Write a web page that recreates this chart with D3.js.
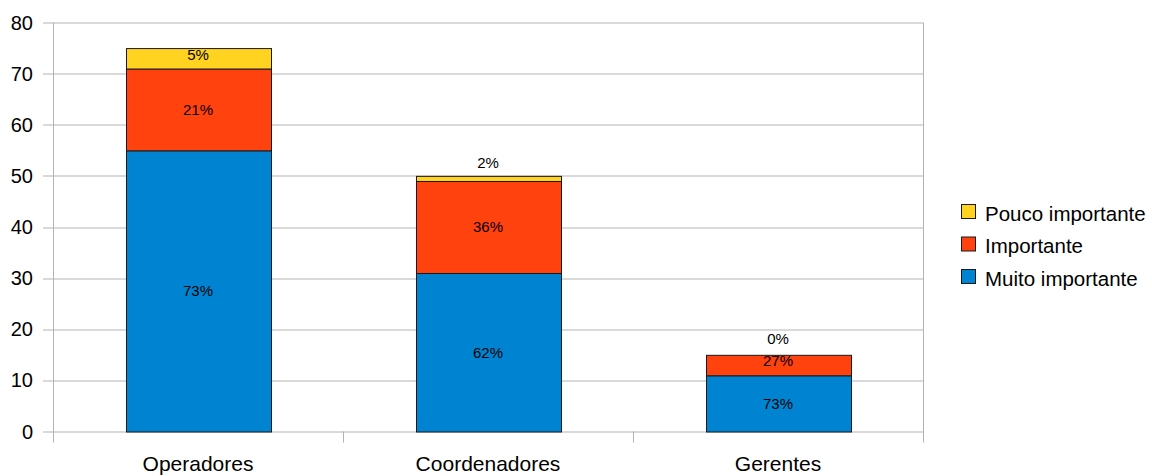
<!DOCTYPE html>
<html>
<head>
<meta charset="utf-8">
<script src="https://cdn.jsdelivr.net/npm/d3@7"></script>
<style>
  html, body { margin: 0; padding: 0; background: #fff; }
  svg { display: block; font-family: "Liberation Sans", Arial, sans-serif; }
</style>
</head>
<body>
<svg id="chart" width="1152" height="476"></svg>
<script>
// Categories and stacked series (respondent counts)
const categories = ["Operadores", "Coordenadores", "Gerentes"];
const seriesNames = ["Muito importante", "Importante", "Pouco importante"];
const muitoImportante = [55, 31, 11];
const importante = [16, 18, 4];
const poucoImportante = [4, 1, 0];
const yTicks = [0, 10, 20, 30, 40, 50, 60, 70, 80];
const colors = ["#0084d1", "#ff420e", "#ffd320"];

const svg = d3.select("#chart");
const margin = { left: 53, right: 229, top: 22.5, bottom: 44.5 };
const width = 1152 - margin.left - margin.right;
const height = 476 - margin.top - margin.bottom;

const g = svg.append("g").attr("transform", `translate(${margin.left},${margin.top})`);

const x = d3.scaleBand().domain(categories).range([0, width]).paddingInner(0).paddingOuter(0);
const y = d3.scaleLinear().domain([0, 80]).range([height, 0]);

// Horizontal grid lines
g.append("g").selectAll("line").data(yTicks).join("line")
  .attr("x1", -10).attr("x2", width)
  .attr("y1", d => Math.round(y(d)) + 0.5).attr("y2", d => Math.round(y(d)) + 0.5)
  .attr("stroke", "#b3b3b3").attr("stroke-width", 1);

// Right border
g.append("line").attr("x1", width + 0.5).attr("x2", width + 0.5)
  .attr("y1", 0).attr("y2", height + 11).attr("stroke", "#b3b3b3");

// Y axis line
g.append("line").attr("x1", 0.5).attr("x2", 0.5)
  .attr("y1", 0).attr("y2", height + 11).attr("stroke", "#b3b3b3");

// Category separators below axis
g.append("g").selectAll("line").data(categories.slice(1)).join("line")
  .attr("x1", d => Math.round(x(d)) + 0.5).attr("x2", d => Math.round(x(d)) + 0.5)
  .attr("y1", height).attr("y2", height + 11).attr("stroke", "#b3b3b3");

// Y tick labels
g.append("g").selectAll("text").data(yTicks).join("text")
  .attr("x", -20).attr("y", d => y(d))
  .attr("dy", "0.35em").attr("text-anchor", "end")
  .attr("font-size", 20).attr("fill", "#000")
  .text(d => d);

// Category labels
g.append("g").selectAll("text").data(categories).join("text")
  .attr("x", d => x(d) + x.bandwidth() / 2).attr("y", height + 39)
  .attr("text-anchor", "middle").attr("font-size", 21).attr("fill", "#000")
  .text(d => d);

// Stack data
const rows = categories.map((c, i) => ({
  cat: c,
  "Muito importante": muitoImportante[i],
  "Importante": importante[i],
  "Pouco importante": poucoImportante[i]
}));
const stack = d3.stack().keys(seriesNames)(rows);

const barW = x.bandwidth() / 2;
const layers = g.append("g").selectAll("g").data(stack).join("g")
  .attr("fill", (d, i) => colors[i]);

layers.selectAll("rect").data(d => d.filter(s => s[1] - s[0] > 0)).join("rect")
  .attr("x", d => Math.round(x(d.data.cat) + (x.bandwidth() - barW) / 2) + 0.5)
  .attr("width", Math.round(barW))
  .attr("y", d => y(d[1]) + 0.5)
  .attr("height", d => y(d[0]) - y(d[1]))
  .attr("stroke", "#1a1a1a").attr("stroke-width", 1);

// Percentage labels
const labels = [];
stack.forEach(layer => {
  layer.forEach(s => {
    const total = seriesNames.reduce((a, k) => a + s.data[k], 0);
    const v = s[1] - s[0];
    const pct = Math.round(v / total * 100) + "%";
    const h = y(s[0]) - y(s[1]);
    let ly;
    if (h < 8) ly = y(s[1]) - 12 - (8 - h) / 2;
    else ly = (y(s[0]) + y(s[1])) / 2 - (h < 25 ? 4 : 0);
    labels.push({ cat: s.data.cat, pct, ly });
  });
});
g.append("g").selectAll("text").data(labels).join("text")
  .attr("x", d => x(d.cat) + x.bandwidth() / 2)
  .attr("y", d => d.ly).attr("dy", "0.35em")
  .attr("text-anchor", "middle").attr("font-size", 15).attr("fill", "#000")
  .text(d => d.pct);

// Legend (reverse stacking order)
const legendItems = seriesNames.map((n, i) => ({ n, c: colors[i] })).reverse();
const leg = svg.append("g").attr("transform", "translate(961,204)");
const li = leg.selectAll("g").data(legendItems).join("g")
  .attr("transform", (d, i) => `translate(0,${i * 32.5})`);
li.append("rect").attr("x", 0.5).attr("y", 0.5).attr("width", 14).attr("height", 14)
  .attr("fill", d => d.c).attr("stroke", "#1a1a1a");
li.append("text").attr("x", 24).attr("y", 9.5).attr("dy", "0.35em")
  .attr("font-size", 20.5).attr("fill", "#000").text(d => d.n);
</script>
</body>
</html>
